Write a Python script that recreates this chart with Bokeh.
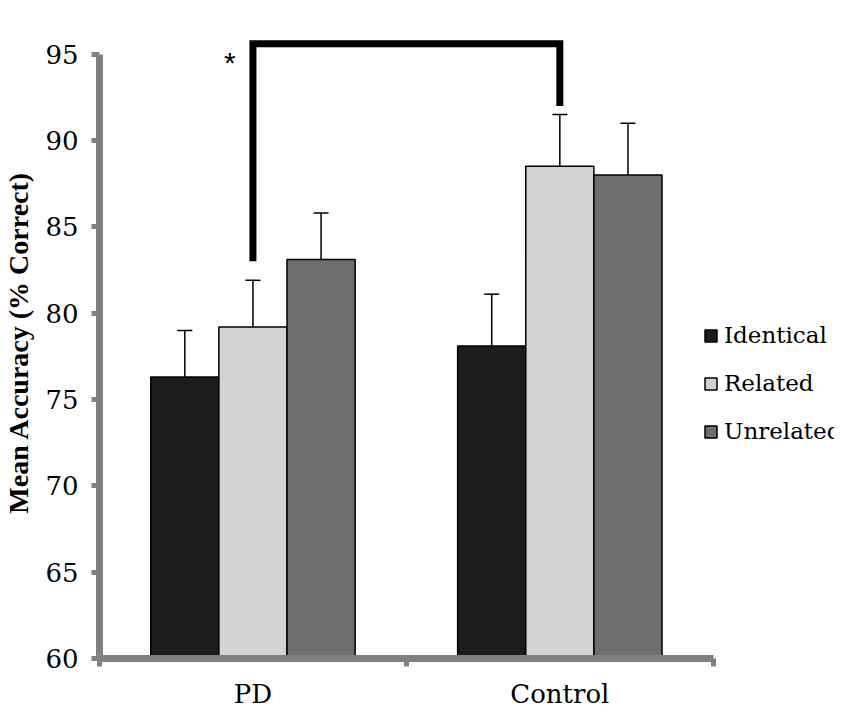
from bokeh.plotting import figure
from bokeh.models import (ColumnDataSource, FixedTicker, Range1d, Whisker, TeeHead,
                          Legend, LegendItem)
from bokeh.transform import dodge
from bokeh.core.properties import value
from bokeh.embed import file_html
from bokeh.resources import INLINE

# ---- data ----
groups = ["PD", "Control"]
conditions = ["Identical", "Related", "Unrelated"]
identical = [76.3, 78.1]
related = [79.2, 88.5]
unrelated = [83.1, 88.0]
err_identical = [2.7, 3.0]
err_related = [2.7, 3.0]
err_unrelated = [2.7, 3.0]
y_ticks = [60, 65, 70, 75, 80, 85, 90, 95]

# significance bracket (PD Related vs Control Related)
bracket_top = 95.6
bracket_left_bottom = 83.0
bracket_right_bottom = 92.0
star_y = 94.5

colors = ["#1c1c1c", "#d3d3d3", "#6e6e6e"]
values = [identical, related, unrelated]
errors = [err_identical, err_related, err_unrelated]

SERIF = "Liberation Serif"
SERIF_N = "DejaVu Serif"
BAR_W = 0.222
offsets = [-BAR_W, 0.0, BAR_W]

centers = [i + 0.5 for i in range(len(groups))]
data = {"x": centers}
for c, v, e in zip(conditions, values, errors):
    data[c] = v
    data[c + "_up"] = [a + b for a, b in zip(v, e)]
    data[c + "_lo"] = [a - b for a, b in zip(v, e)]
src = ColumnDataSource(data)

p = figure(width=834, height=713, output_backend="svg", toolbar_location=None,
           x_range=Range1d(0, 2.395), y_range=Range1d(60, 96.6),
           min_border_left=98, min_border_right=0, min_border_top=26,
           min_border_bottom=55)
p.outline_line_color = None
p.xgrid.visible = False
p.ygrid.visible = False
p.background_fill_color = "white"

items = []
for c, col, off in zip(conditions, colors, offsets):
    r = p.vbar(x=dodge("x", off, range=p.x_range), top=c, bottom=y_ticks[0],
               width=BAR_W, source=src, fill_color=col,
               line_color="black", line_width=1.5)
    items.append(LegendItem(label=c, renderers=[r]))

for c, off in zip(conditions, offsets):
    w = Whisker(base=dodge("x", off, range=p.x_range), upper=c + "_up", lower=c + "_lo",
                source=src, line_color="black", line_width=1.5,
                upper_head=TeeHead(size=15, line_color="black", line_width=1.5),
                lower_head=TeeHead(size=15, line_color="black", line_width=1.5))
    p.add_layout(w)

# bracket between the two "Related" bars
rel_off = offsets[conditions.index("Related")]
bx = [centers[0] + rel_off, centers[0] + rel_off, centers[1] + rel_off, centers[1] + rel_off]
by = [bracket_left_bottom, bracket_top, bracket_top, bracket_right_bottom]
p.line(bx, by, line_color="black", line_width=7, line_join="miter", line_cap="butt")
p.text(x=[centers[0] + rel_off - 0.075], y=[star_y], text=["*"],
       text_font=value("Liberation Sans"), text_font_size="30px",
       text_align="center", text_baseline="middle", text_color="black")

# y axis
ya = p.yaxis[0]
ya.ticker = FixedTicker(ticks=y_ticks)
ya.bounds = (y_ticks[0], y_ticks[-1])
ya.axis_line_color = "#808080"
ya.axis_line_width = 7
ya.major_tick_line_color = "#808080"
ya.major_tick_line_width = 5
ya.major_tick_out = 8
ya.major_tick_in = 0
ya.minor_tick_line_color = None
ya.major_label_text_font = SERIF_N
ya.major_label_text_font_size = "26px"
ya.major_label_text_color = "black"
ya.major_label_standoff = 13
ya.axis_label = "Mean Accuracy (% Correct)"
ya.axis_label_text_font = SERIF
ya.axis_label_text_font_style = "bold"
ya.axis_label_text_font_size = "28px"
ya.axis_label_text_color = "black"
ya.axis_label_standoff = 8

# x axis
xa = p.xaxis[0]
xa.ticker = FixedTicker(ticks=centers, minor_ticks=list(range(len(groups) + 1)))
xa.bounds = (0, len(groups))
xa.major_label_overrides = {cx: g for cx, g in zip(centers, groups)}
xa.axis_line_color = "#808080"
xa.axis_line_width = 7
xa.major_tick_line_color = None
xa.major_tick_out = 0
xa.major_tick_in = 0
xa.minor_tick_line_color = "#808080"
xa.minor_tick_line_width = 5
xa.minor_tick_out = 8
xa.minor_tick_in = 0
xa.major_label_text_font = SERIF_N
xa.major_label_text_font_size = "26px"
xa.major_label_text_color = "black"
xa.major_label_standoff = 12

legend = Legend(items=items, location=(604, 212), orientation="vertical",
                glyph_width=15, glyph_height=15, label_height=30, spacing=18,
                label_standoff=6, padding=0, margin=0,
                border_line_color=None, background_fill_alpha=0,
                label_text_font=SERIF_N, label_text_font_size="23px",
                label_text_color="black")
p.add_layout(legend)

open("out.html", "w").write(file_html(p, INLINE))
